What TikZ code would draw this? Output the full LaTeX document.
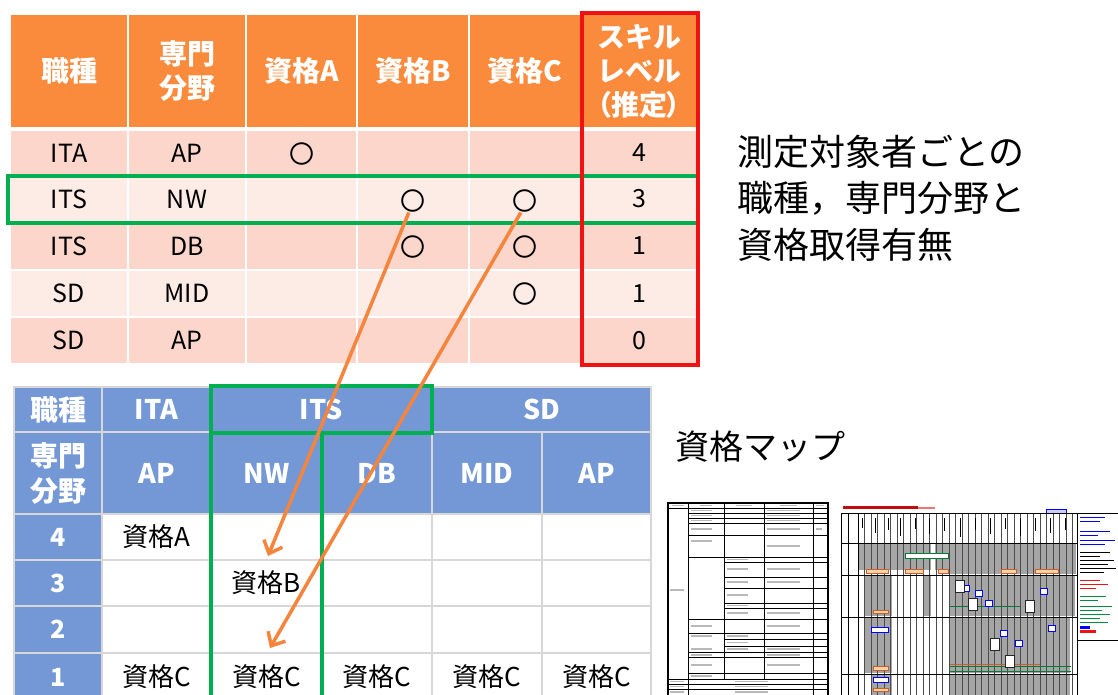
\documentclass[tikz,border=0pt]{standalone}
\usepackage{fontspec}
\setmainfont{Noto Sans CJK JP}
\usetikzlibrary{arrows.meta}
\definecolor{hdrorange}{RGB}{250,138,60}
\definecolor{rowdark}{RGB}{252,214,202}
\definecolor{rowlight}{RGB}{253,235,230}
\definecolor{tblblue}{RGB}{116,152,214}
\definecolor{gridgrey}{RGB}{215,215,215}
\definecolor{hlgreen}{RGB}{0,176,80}
\definecolor{hlred}{RGB}{240,18,18}
\definecolor{arrorange}{RGB}{245,133,60}
\definecolor{thgrey}{RGB}{165,165,165}
\definecolor{thbrown}{RGB}{200,95,45}
\newcommand\mkcell[7]{%
  \node[cellbase,#6,minimum width={(#4-(#2))*1pt},minimum height={(#5-(#3))*1pt}] (#1) at ({(#2+#4)/2},{(#3+#5)/2}) {#7};}
\begin{document}
\begin{tikzpicture}[x=1pt,y=-1pt,
  cellbase/.style={inner sep=0pt,outer sep=0pt,draw=white,line width=2pt,align=center,anchor=center},
  hdrO/.style={fill=hdrorange,text=white,font=\fontsize{28}{34}\selectfont\bfseries},
  rowD/.style={fill=rowdark,text=black,font=\fontsize{25}{30}\selectfont},
  rowL/.style={fill=rowlight,text=black,font=\fontsize{25}{30}\selectfont},
  bhdr/.style={fill=tblblue,draw=gridgrey,text=white,font=\fontsize{27}{35}\selectfont\bfseries},
  bnum/.style={fill=tblblue,draw=gridgrey,text=white,font=\fontsize{25}{30}\selectfont\bfseries},
  bbody/.style={fill=white,draw=gridgrey,text=black,font=\fontsize{26}{30}\selectfont},
  circ/.style={inner sep=0pt,font=\fontsize{25}{30}\selectfont},
  hlbox/.style={draw=hlgreen,line width=3.5pt},
  orarrow/.style={draw=arrorange,line width=3.5pt,-{Straight Barb[length=11pt,width=20pt]}},
  smudge/.style={draw=gray!55,line width=1.3pt},
  thline/.style={draw=black,line width=0.9pt}]
\useasboundingbox (0,0) rectangle (1118,695);
\fill[white] (0,0) rectangle (1118,695);

% ---------- top table ----------
\mkcell{th1}{10}{14}{128}{128}{hdrO}{職種}
\mkcell{th2}{128}{14}{246}{128}{hdrO}{専門\\分野}
\mkcell{th3}{246}{14}{357}{128}{hdrO}{資格A}
\mkcell{th4}{357}{14}{469}{128}{hdrO}{資格B}
\mkcell{th5}{469}{14}{581}{128}{hdrO}{資格C}
\mkcell{th6}{581}{14}{697}{128}{hdrO}{スキル\\レベル\\{\addfontfeature{RawFeature=+palt}（推定）}}

\mkcell{t11}{10}{130}{128}{176}{rowD}{ITA}
\mkcell{t12}{128}{130}{246}{176}{rowD}{AP}
\mkcell{t13}{246}{130}{357}{176}{rowD}{}
\mkcell{t14}{357}{130}{469}{176}{rowD}{}
\mkcell{t15}{469}{130}{581}{176}{rowD}{}
\mkcell{t16}{581}{130}{697}{176}{rowD}{4}

\mkcell{t21}{10}{176}{128}{222}{rowL}{ITS}
\mkcell{t22}{128}{176}{246}{222}{rowL}{NW}
\mkcell{t23}{246}{176}{357}{222}{rowL}{}
\mkcell{t24}{357}{176}{469}{222}{rowL}{}
\mkcell{t25}{469}{176}{581}{222}{rowL}{}
\mkcell{t26}{581}{176}{697}{222}{rowL}{3}

\mkcell{t31}{10}{222}{128}{270}{rowD}{ITS}
\mkcell{t32}{128}{222}{246}{270}{rowD}{DB}
\mkcell{t33}{246}{222}{357}{270}{rowD}{}
\mkcell{t34}{357}{222}{469}{270}{rowD}{}
\mkcell{t35}{469}{222}{581}{270}{rowD}{}
\mkcell{t36}{581}{222}{697}{270}{rowD}{1}

\mkcell{t41}{10}{270}{128}{317}{rowL}{SD}
\mkcell{t42}{128}{270}{246}{317}{rowL}{MID}
\mkcell{t43}{246}{270}{357}{317}{rowL}{}
\mkcell{t44}{357}{270}{469}{317}{rowL}{}
\mkcell{t45}{469}{270}{581}{317}{rowL}{}
\mkcell{t46}{581}{270}{697}{317}{rowL}{1}

\mkcell{t51}{10}{317}{128}{364}{rowD}{SD}
\mkcell{t52}{128}{317}{246}{364}{rowD}{AP}
\mkcell{t53}{246}{317}{357}{364}{rowD}{}
\mkcell{t54}{357}{317}{469}{364}{rowD}{}
\mkcell{t55}{469}{317}{581}{364}{rowD}{}
\mkcell{t56}{581}{317}{697}{364}{rowD}{0}

\node[circ] (oA1) at (302,154) {〇};
\node[circ] (oB2) at (413,201) {〇};
\node[circ] (oC2) at (525,201) {〇};
\node[circ] (oB3) at (413,247) {〇};
\node[circ] (oC3) at (525,247) {〇};
\node[circ] (oC4) at (525,294) {〇};

\draw[hlbox] (8,176) rectangle (698,223);
\draw[draw=hlred,line width=3.5pt] (582,13) rectangle (698,365);

% ---------- right texts ----------
\node[anchor=west,inner sep=0pt,align=left,font=\fontsize{36}{46.5}\selectfont] (desc) at (737,198)
  {測定対象者ごとの\\職種，専門分野と\\資格取得有無};
\node[anchor=west,inner sep=0pt,font=\fontsize{34}{40}\selectfont] (mapttl) at (675,447) {資格マップ};

% ---------- bottom table ----------
\mkcell{b00}{14}{387}{102}{432}{bhdr,font=\fontsize{28}{35}\selectfont\bfseries}{職種}
\mkcell{b01}{102}{387}{211}{432}{bhdr}{ITA}
\mkcell{b02}{211}{387}{432}{432}{bhdr}{ITS}
\mkcell{b03}{432}{387}{651}{432}{bhdr}{SD}

\mkcell{b10}{14}{432}{102}{514}{bhdr,font=\fontsize{28}{35}\selectfont\bfseries}{専門\\分野}
\mkcell{b11}{102}{432}{211}{514}{bhdr}{AP}
\mkcell{b12}{211}{432}{322}{514}{bhdr}{NW}
\mkcell{b13}{322}{432}{432}{514}{bhdr}{DB}
\mkcell{b14}{432}{432}{542}{514}{bhdr}{MID}
\mkcell{b15}{542}{432}{651}{514}{bhdr}{AP}

\mkcell{b20}{14}{514}{102}{560}{bnum}{4}
\mkcell{b21}{102}{514}{211}{560}{bbody}{資格A}
\mkcell{b22}{211}{514}{322}{560}{bbody}{}
\mkcell{b23}{322}{514}{432}{560}{bbody}{}
\mkcell{b24}{432}{514}{542}{560}{bbody}{}
\mkcell{b25}{542}{514}{651}{560}{bbody}{}

\mkcell{b30}{14}{560}{102}{606}{bnum}{3}
\mkcell{b31}{102}{560}{211}{606}{bbody}{}
\mkcell{b32}{211}{560}{322}{606}{bbody}{資格B}
\mkcell{b33}{322}{560}{432}{606}{bbody}{}
\mkcell{b34}{432}{560}{542}{606}{bbody}{}
\mkcell{b35}{542}{560}{651}{606}{bbody}{}

\mkcell{b40}{14}{606}{102}{653}{bnum}{2}
\mkcell{b41}{102}{606}{211}{653}{bbody}{}
\mkcell{b42}{211}{606}{322}{653}{bbody}{}
\mkcell{b43}{322}{606}{432}{653}{bbody}{}
\mkcell{b44}{432}{606}{542}{653}{bbody}{}
\mkcell{b45}{542}{606}{651}{653}{bbody}{}

\mkcell{b50}{14}{653}{102}{701}{bnum}{1}
\mkcell{b51}{102}{653}{211}{701}{bbody}{資格C}
\mkcell{b52}{211}{653}{322}{701}{bbody}{資格C}
\mkcell{b53}{322}{653}{432}{701}{bbody}{資格C}
\mkcell{b54}{432}{653}{542}{701}{bbody}{資格C}
\mkcell{b55}{542}{653}{651}{701}{bbody}{資格C}

\draw[hlbox] (211,386) rectangle (432,433);
\draw[hlbox] (211,433) -- (211,700);
\draw[hlbox] (322,433) -- (322,700);

% ---------- arrows ----------
\coordinate (e1) at (268,556);
\coordinate (e2) at (270,648);
\draw[orarrow] (oB2.-110) -- (e1);
\draw[orarrow] (oC2.-110) -- (e2);

% ---------- thumbnail 1 (table) ----------
\draw[thline,line width=1.2pt] (668,503) rectangle (828,700);
\draw[thline] (688,503) -- (688,700);
\draw[thline] (813,503) -- (813,700);
\draw[thline] (724,503) -- (724,679);
\draw[thline] (764,503) -- (764,679);
\foreach \y in {508,679,684,689} \draw[thline] (668,\y) -- (828,\y);
\foreach \y in {513,518,523,535,557,619,633,652,657,673} \draw[thline] (688,\y) -- (828,\y);
\foreach \y in {562,577,588,603,608,639,646} \draw[thline] (724,\y) -- (828,\y);
\foreach \y in {510.5,515.5,520.5,529,541,626,636,649,655,665,676} \draw[smudge] (691,\y) -- (712,\y);
\foreach \y in {510.5,515.5,520.5,529,546,569,582,613,626,649,655,665} \draw[smudge] (767,\y) -- (800,\y);
\foreach \y in {559.5,569,582,595,605.5,613,636,642.5,649} \draw[smudge] (727,\y) -- (748,\y);
\foreach \y in {590,681.5,686.5,692} \draw[smudge] (670,\y) -- (684,\y);
\foreach \y in {681.5,686.5,692} \draw[smudge] (735,\y) -- (768,\y);
\draw[smudge] (672,505.5) -- (684,505.5);
\draw[smudge] (700,505.5) -- (712,505.5);
\draw[smudge] (736,505.5) -- (752,505.5);
\draw[smudge] (780,505.5) -- (797,505.5);
\draw[smudge] (816,505.5) -- (824,505.5);
\draw[smudge] (816,529) -- (822,529);

% ---------- thumbnail 2 (chart) ----------
\fill[hlred!80!black] (843,506) rectangle (918,509);
\fill[hlred!60] (918,507) rectangle (935,508.5);
\draw[blue,fill=blue!20,line width=0.4pt] (1046,509) rectangle (1066,513);
\fill[thgrey] (858,544) rectangle (931,570);
\fill[thgrey] (935,544) rectangle (950,570);
\fill[thgrey] (950,544) rectangle (1076,574);
\fill[thgrey] (865,576) rectangle (892,616);
\fill[thgrey] (923,576) rectangle (931,616);
\fill[thgrey] (950,576) rectangle (1075,616);
\fill[thgrey] (865,618) rectangle (892,673);
\fill[thgrey] (950,618) rectangle (1070,673);
\fill[thgrey] (872,675) rectangle (892,695);
\fill[thgrey] (950,675) rectangle (1070,695);
\foreach \x in {858,864.5,...,1076} \draw[gray!60!black,line width=0.35pt] (\x,514) -- (\x,695);
\foreach \x/\h in {862/528,875/533,888/530,900/536,915/529,929/534,944/531,960/537,975/530,990/534,1005/529,1020/536,1035/531,1050/533,1065/530}
  \draw[black,line width=0.9pt] (\x,518) -- (\x,\h);
\draw[thline,line width=0.6pt] (841,513) rectangle (1077,700);
\draw[thline,line width=0.6pt] (848,513) -- (848,700);
\draw[thline,line width=0.6pt] (858,513) -- (858,700);
\foreach \y in {543,575,617,674} \draw[thline,line width=0.6pt] (841,\y) -- (1077,\y);
\draw[thline,line width=0.6pt] (1077,513) rectangle (1118,640);
\draw[hlgreen!70!black,fill=white,line width=0.5pt] (905,553) rectangle (948,558);
\foreach \a/\b in {866/888,905/923,938/948,1001/1016,1035/1058}
  \draw[thbrown,fill=orange!35,line width=0.5pt] (\a,569.5) rectangle (\b,573);
\draw[thbrown,fill=orange!35,line width=0.5pt] (873,666) rectangle (888,670);
\draw[thbrown,fill=orange!35,line width=0.5pt] (873,610) rectangle (888,613);
\draw[blue,fill=white,line width=0.5pt] (871,627) rectangle (888,632);
\draw[blue,fill=white,line width=0.5pt] (873,677) rectangle (888,682);
\draw[thbrown,fill=orange!35,line width=0.5pt] (873,688) rectangle (888,691);
\draw[hlgreen!70!black,line width=1pt] (950,606) -- (1020,606);
\draw[hlgreen!70!black,line width=1pt] (950,666) -- (1071,666);
\draw[hlgreen!70!black,line width=1pt] (950,671) -- (1071,671);
\draw[thbrown,line width=1pt] (950,664) -- (1040,664);
\foreach \x/\y in {962/585,975/590,985/600,1000/630,1015/640,1040/588,1048/625}
  \draw[blue,fill=white,line width=0.5pt] (\x,\y) rectangle (\x+7,\y+6);
\foreach \x/\y in {955/580,968/598,990/638,1005/655,1025/600}
  \draw[gray!30!black,fill=white,line width=0.4pt] (\x,\y) rectangle (\x+9,\y+12);
\foreach \y/\l in {517/1105,521/1100,531/1110,535/1098,540/1115,544/1105}
  \draw[blue,line width=0.9pt] (1080,\y) -- (\l,\y);
\foreach \y/\l in {552/1110,556/1100,560/1114,564/1108,568/1116,572/1104}
  \draw[black,line width=0.9pt] (1080,\y) -- (\l,\y);
\foreach \y/\l in {580/1100,584/1108,588/1096}
  \draw[hlred,line width=0.9pt] (1080,\y) -- (\l,\y);
\foreach \y/\l in {596/1106,600/1098,606/1112,610/1102,614/1110,618/1100,622/1108}
  \draw[hlgreen!80!black,line width=0.9pt] (1080,\y) -- (\l,\y);
\fill[blue] (1080,626) rectangle (1090,629);
\fill[hlred] (1080,630) rectangle (1096,633);
\end{tikzpicture}
\end{document}
